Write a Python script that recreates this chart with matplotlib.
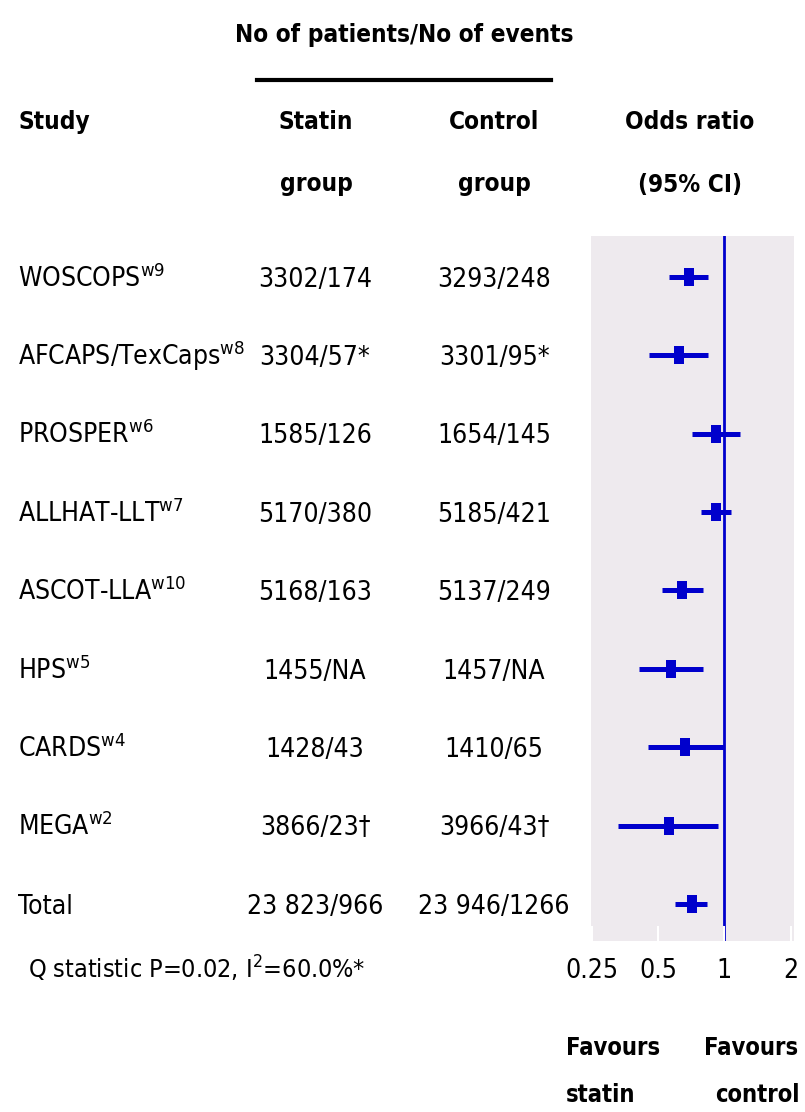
import numpy as np
import matplotlib
matplotlib.use("Agg")
import matplotlib.pyplot as plt
import matplotlib.transforms as mtransforms
from matplotlib.lines import Line2D

plt.rcParams['font.family'] = ['DejaVu Sans']
plt.rcParams['font.stretch'] = 'condensed'
plt.rcParams['mathtext.fontset'] = 'dejavusans'

# data
studies = ["WOSCOPS", "AFCAPS/TexCaps", "PROSPER", "ALLHAT-LLT", "ASCOT-LLA",
           "HPS", "CARDS", "MEGA", "Total"]
refs = ["w9", "w8", "w6", "w7", "w10", "w5", "w4", "w2", ""]
statin = ["3302/174", "3304/57*", "1585/126", "5170/380", "5168/163",
          "1455/NA", "1428/43", "3866/23\u2020", "23 823/966"]
control = ["3293/248", "3301/95*", "1654/145", "5185/421", "5137/249",
           "1457/NA", "1410/65", "3966/43\u2020", "23 946/1266"]
odds = [0.69, 0.62, 0.92, 0.92, 0.64, 0.57, 0.66, 0.56, 0.71]
ci_lo = [0.56, 0.455, 0.71, 0.78, 0.52, 0.41, 0.45, 0.33, 0.60]
ci_hi = [0.84, 0.84, 1.18, 1.07, 0.80, 0.80, 1.00, 0.94, 0.83]
ticks = [0.25, 0.5, 1, 2]
tick_labels = ["0.25", "0.5", "1", "2"]

blue = '#0000cc'
W, H = 805, 1112
fs = 19
hs = 17.5


def fy(px):
    # pixel row from the top -> figure fraction
    return 1 - px / H


fig = plt.figure(figsize=(W / 100, H / 100), dpi=100)
ax = fig.add_axes([591 / W, fy(941), 203 / W, 705 / H])
ax.set_facecolor('#eeeaee')
for s in ax.spines.values():
    s.set_visible(False)

ax.set_xscale('log', base=2)
ax.set_xlim(2 ** -2.01, 2 ** 1.05)
ax.set_ylim(8.47, -0.52)

y = np.arange(len(studies))
odds = np.array(odds)
xerr = [odds - np.array(ci_lo), np.array(ci_hi) - odds]
box = [(-0.3, -0.5), (0.3, -0.5), (0.3, 0.5), (-0.3, 0.5)]
ax.axvline(1, color=blue, lw=2, zorder=1)
ax.errorbar(odds, y, xerr=xerr, fmt='none', ecolor=blue, elinewidth=3.6,
            capsize=0, zorder=2)
ax.plot(odds, y, ls='none', marker=box, ms=12.5, color=blue, mew=0, zorder=3)

ax.set_yticks([])
ax.set_xticks(ticks)
ax.set_xticklabels(tick_labels)
ax.minorticks_off()
ax.tick_params(axis='x', direction='in', length=11, width=1.5, color='white',
               pad=12.5, labelsize=fs)

# table text, rows follow the axes data y (baseline shifted so caps sit on the row)
tr = mtransforms.blended_transform_factory(fig.transFigure, ax.transData)
tr = mtransforms.offset_copy(tr, fig=fig, y=-7, units='points')
for i in range(len(studies)):
    name = studies[i]
    if refs[i]:
        name = name + r"$^{\mathrm{" + refs[i] + "}}$"
    ax.text(18 / W, i, name, transform=tr, ha='left', va='baseline', fontsize=fs)
    ax.text(315 / W, i, statin[i], transform=tr, ha='center', va='baseline', fontsize=fs)
    ax.text(494 / W, i, control[i], transform=tr, ha='center', va='baseline', fontsize=fs)

# headers
bold = dict(fontsize=hs, fontweight='bold', va='baseline')
fig.text(404 / W, fy(42), "No of patients/No of events", ha='center', **bold)
fig.add_artist(Line2D([257 / W, 551 / W], [fy(80), fy(80)], color='black', lw=3))
fig.text(18 / W, fy(129), "Study", ha='left', **bold)
fig.text(316 / W, fy(129), "Statin", ha='center', **bold)
fig.text(316 / W, fy(191), "group", ha='center', **bold)
fig.text(494 / W, fy(129), "Control", ha='center', **bold)
fig.text(494 / W, fy(191), "group", ha='center', **bold)
fig.text(690 / W, fy(129), "Odds ratio", ha='center', **bold)
fig.text(690 / W, fy(192), "(95% CI)", ha='center', **bold)

# footer
fig.text(28 / W, fy(979), r"Q statistic P=0.02, I$^{2}$=60.0%*", ha='left', va='baseline',
         fontsize=18)
fav = dict(fontsize=17, fontweight='bold', va='baseline')
fig.text(566 / W, fy(1055), "Favours", ha='left', **fav)
fig.text(566 / W, fy(1102), "statin", ha='left', **fav)
fig.text(751 / W, fy(1055), "Favours", ha='center', **fav)
fig.text(757 / W, fy(1102), "control", ha='center', **fav)

fig.savefig("out.png", dpi=100)
